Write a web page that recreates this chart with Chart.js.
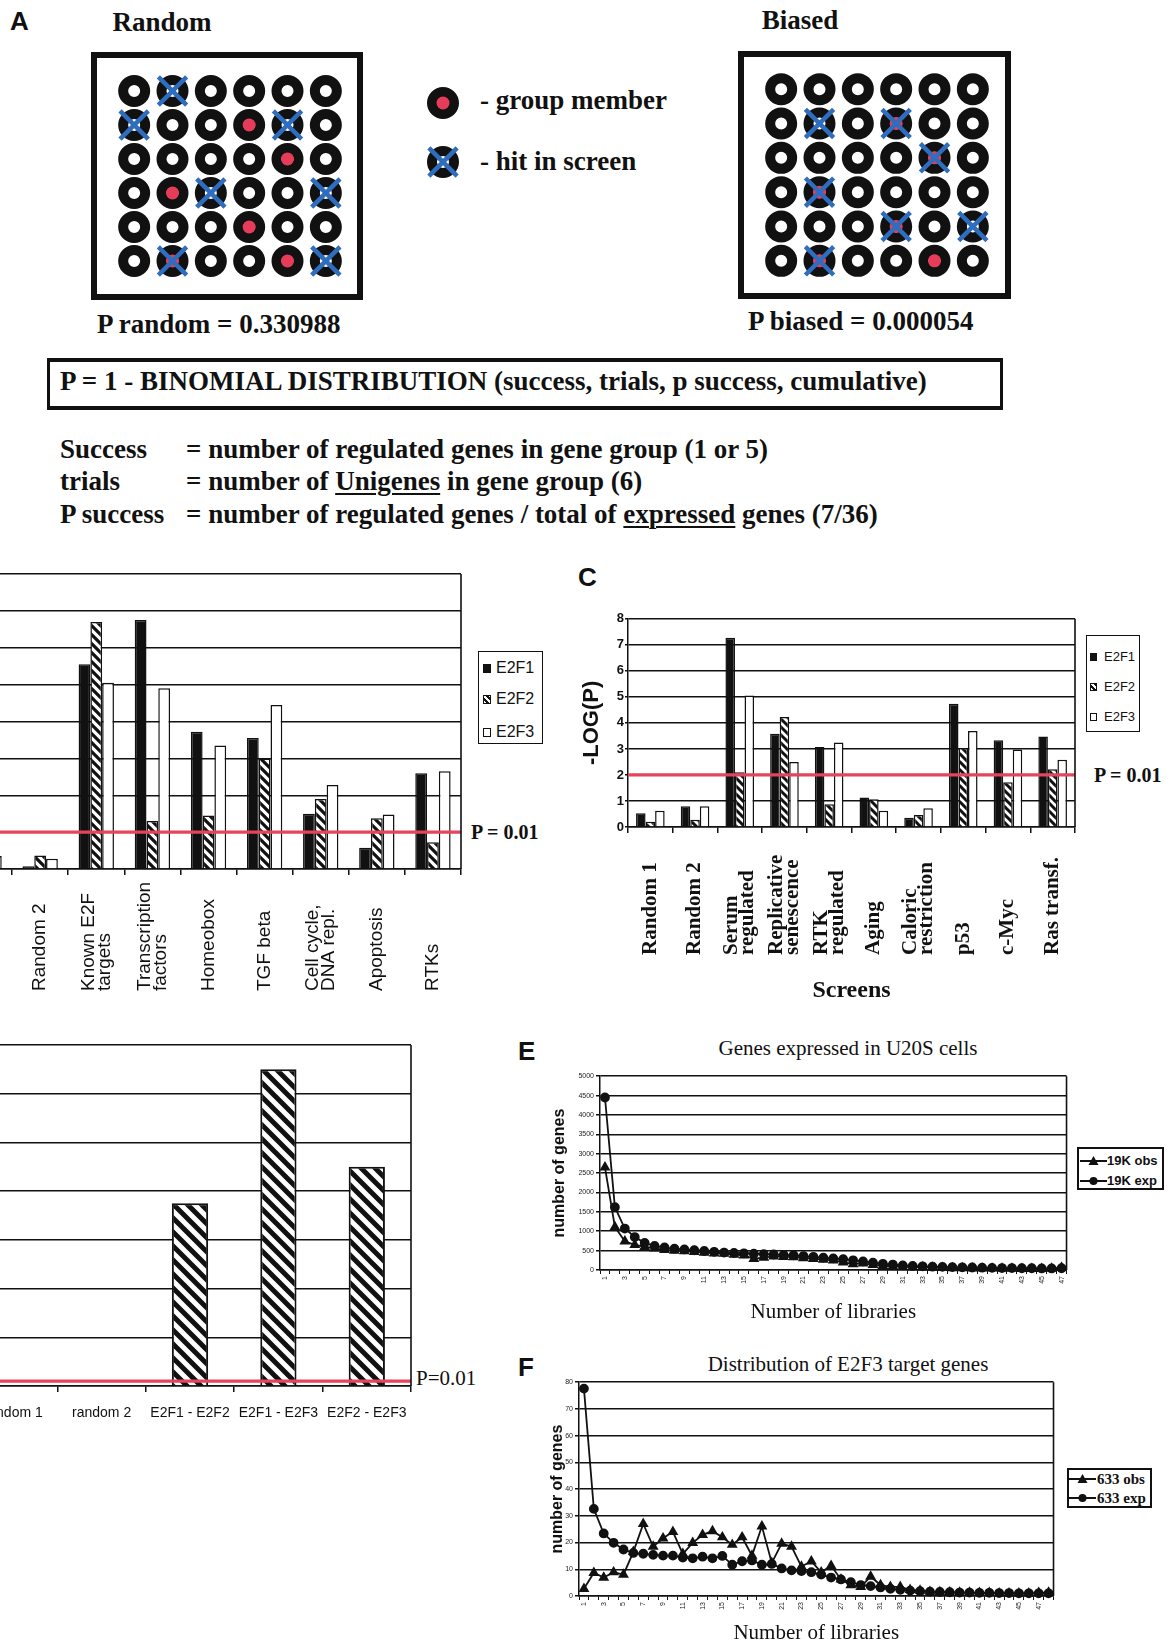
<!DOCTYPE html>
<html>
<head>
<meta charset="utf-8">
<script src="https://cdn.jsdelivr.net/npm/chart.js@4.4.1/dist/chart.umd.min.js"></script>
<style>
html,body{margin:0;padding:0;background:#fff;}
#page{position:relative;width:1176px;height:1645px;overflow:hidden;background:#fff;}
.t{position:absolute;white-space:nowrap;color:#111;line-height:30px;height:30px;}
.sb{font-family:'Liberation Serif','Times New Roman',serif;font-weight:bold;}
.sr{font-family:'Liberation Serif','Times New Roman',serif;}
.ab{font-family:'Liberation Sans',Arial,sans-serif;font-weight:bold;}
.ar{font-family:'Liberation Sans',Arial,sans-serif;}
.box{position:absolute;box-sizing:border-box;border:solid #111;}
canvas{position:absolute;}
u{text-decoration-thickness:2px;text-underline-offset:3px;}
.sq{position:absolute;box-sizing:border-box;border:1.2px solid #111;}
</style>
</head>
<body>
<div id="page">
  <!-- Panel A -->
  <div class="t ab" style="left:10px;top:6px;font-size:26px;">A</div>
  <div class="t sb" style="left:62px;top:7px;width:200px;text-align:center;font-size:27px;">Random</div>
  <div class="t sb" style="left:700px;top:5px;width:200px;text-align:center;font-size:27px;">Biased</div>
  <div class="box" style="left:91px;top:52px;width:272px;height:248px;border-width:6px;"></div>
  <div class="box" style="left:738px;top:51px;width:273px;height:248px;border-width:6px;"></div>
  <canvas id="gridRandom" width="230" height="204" style="left:115px;top:74px;"></canvas>
  <canvas id="gridBiased" width="230" height="206" style="left:762px;top:72px;"></canvas>
  <canvas id="gridLegend" width="40" height="105" style="left:423px;top:80px;"></canvas>
  <div class="t sb" style="left:480px;top:85px;font-size:27px;">- group member</div>
  <div class="t sb" style="left:480px;top:146px;font-size:27px;">- hit in screen</div>
  <div class="t sb" style="left:97px;top:309px;font-size:27px;">P random = 0.330988</div>
  <div class="t sb" style="left:748px;top:306px;font-size:27px;">P biased = 0.000054</div>
  <div class="box" style="left:47px;top:358px;width:956px;height:52px;border-width:4px 3px 4px 3px;"></div>
  <div class="t sb" style="left:60px;top:366px;font-size:27px;">P = 1 - BINOMIAL DISTRIBUTION (success, trials, p success, cumulative)</div>
  <div class="t sb" style="left:60px;top:434px;font-size:27px;">Success</div>
  <div class="t sb" style="left:186px;top:434px;font-size:27px;">= number of regulated genes in gene group (1 or 5)</div>
  <div class="t sb" style="left:60px;top:466px;font-size:27px;">trials</div>
  <div class="t sb" style="left:186px;top:466px;font-size:27px;">= number of <u>Unigenes</u> in gene group (6)</div>
  <div class="t sb" style="left:60px;top:499px;font-size:27px;">P success</div>
  <div class="t sb" style="left:186px;top:499px;font-size:27px;">= number of regulated genes / total of <u>expressed</u> genes (7/36)</div>

  <!-- Panel B -->
  <canvas id="chartB" width="507" height="423" style="left:-44px;top:571px;"></canvas>
  <div class="box" style="left:478px;top:651px;width:65px;height:93px;border-width:1.5px;"></div>
  <div class="sq" style="left:483px;top:664px;width:8px;height:9px;background:#111;"></div>
  <div class="sq" style="left:483px;top:695px;width:8px;height:9px;background:repeating-linear-gradient(45deg,#fff 0 2px,#111 2px 4px);"></div>
  <div class="sq" style="left:483px;top:728px;width:8px;height:9px;background:#fff;"></div>
  <div class="t ar" style="left:496px;top:653px;font-size:16px;">E2F1</div>
  <div class="t ar" style="left:496px;top:684px;font-size:16px;">E2F2</div>
  <div class="t ar" style="left:496px;top:717px;font-size:16px;">E2F3</div>
  <div class="t sb" style="left:471px;top:817px;font-size:20px;">P = 0.01</div>

  <!-- Panel C -->
  <div class="t ab" style="left:578px;top:562px;font-size:26px;">C</div>
  <canvas id="chartC" width="502" height="396" style="left:576px;top:610px;"></canvas>
  <div class="box" style="left:1086px;top:635px;width:54px;height:97px;border-width:1.5px;"></div>
  <div class="sq" style="left:1090px;top:653px;width:7px;height:8px;background:#111;"></div>
  <div class="sq" style="left:1090px;top:683px;width:7px;height:8px;background:repeating-linear-gradient(45deg,#fff 0 2px,#111 2px 4px);"></div>
  <div class="sq" style="left:1090px;top:713px;width:7px;height:8px;background:#fff;"></div>
  <div class="t ar" style="left:1104px;top:642px;font-size:13px;">E2F1</div>
  <div class="t ar" style="left:1104px;top:672px;font-size:13px;">E2F2</div>
  <div class="t ar" style="left:1104px;top:702px;font-size:13px;">E2F3</div>
  <div class="t sb" style="left:1094px;top:760px;font-size:20px;">P = 0.01</div>

  <!-- Panel D -->
  <canvas id="chartD" width="445" height="389" style="left:-31px;top:1042px;"></canvas>
  <div class="t sr" style="left:416px;top:1363px;font-size:21px;">P=0.01</div>

  <!-- Panel E -->
  <div class="t ab" style="left:518px;top:1036px;font-size:26px;">E</div>
  <div class="t sr" style="left:648px;top:1033px;width:400px;text-align:center;font-size:21px;">Genes expressed in U20S cells</div>
  <canvas id="chartE" width="527" height="255" style="left:545px;top:1070px;"></canvas>
  <div class="box" style="left:1077px;top:1147px;width:87px;height:43px;border-width:2px;"></div>
  <svg style="position:absolute;left:1080px;top:1155px;" width="27" height="12"><line x1="0" y1="6" x2="27" y2="6" stroke="#111" stroke-width="2"/><polygon points="13.5,1 18.5,10 8.5,10" fill="#111"/></svg>
  <svg style="position:absolute;left:1080px;top:1175px;" width="27" height="12"><line x1="0" y1="6" x2="27" y2="6" stroke="#111" stroke-width="2"/><circle cx="13.5" cy="6" r="4" fill="#111"/></svg>
  <div class="t ab" style="left:1107px;top:1146px;font-size:13px;">19K obs</div>
  <div class="t ab" style="left:1107px;top:1166px;font-size:13px;">19K exp</div>

  <!-- Panel F -->
  <div class="t ab" style="left:518px;top:1352px;font-size:26px;">F</div>
  <div class="t sr" style="left:648px;top:1349px;width:400px;text-align:center;font-size:21px;">Distribution of E2F3 target genes</div>
  <canvas id="chartF" width="516" height="270" style="left:543px;top:1376px;"></canvas>
  <div class="box" style="left:1067px;top:1468px;width:85px;height:40px;border-width:2px;"></div>
  <svg style="position:absolute;left:1069px;top:1473px;" width="27" height="12"><line x1="0" y1="6" x2="27" y2="6" stroke="#111" stroke-width="2"/><polygon points="13.5,1 18.5,10 8.5,10" fill="#111"/></svg>
  <svg style="position:absolute;left:1069px;top:1492px;" width="27" height="12"><line x1="0" y1="6" x2="27" y2="6" stroke="#111" stroke-width="2"/><circle cx="13.5" cy="6" r="4" fill="#111"/></svg>
  <div class="t sb" style="left:1097px;top:1464px;font-size:15px;">633 obs</div>
  <div class="t sb" style="left:1097px;top:1483px;font-size:15px;">633 exp</div>
</div>

<script>
// ================= DATA =================
// Panel A: 6x6 grid of genes
const gridCols = [1, 2, 3, 4, 5, 6];
const gridRows = [1, 2, 3, 4, 5, 6];
const randomMemberCols = [4, 5, 2, 4, 2, 5];
const randomMemberRows = [2, 3, 4, 5, 6, 6];
const randomHitCols = [2, 1, 5, 3, 6, 2, 6];
const randomHitRows = [1, 2, 2, 4, 4, 6, 6];
const biasedMemberCols = [4, 5, 2, 4, 2, 5];
const biasedMemberRows = [2, 3, 4, 5, 6, 6];
const biasedHitCols = [2, 4, 5, 2, 4, 6, 2];
const biasedHitRows = [2, 2, 3, 4, 5, 5, 6];
const legendMemberRows = [1];
const legendHitRows = [2];

// Significance threshold: -log10(0.01)
const pThresholdLog = 2;

// Panel B: gene groups, -log(P)
const groupsB = [['Random 1'], ['Random 2'], ['Known E2F', 'targets'], ['Transcription', 'factors'], ['Homeobox'], ['TGF beta'], ['Cell cycle,', 'DNA repl.'], ['Apoptosis'], ['RTKs']];
const bE2F1 = [0.5, 0.15, 11.1, 13.5, 7.45, 7.1, 3.0, 1.15, 5.2];
const bE2F2 = [0.3, 0.73, 13.4, 2.6, 2.9, 6.0, 3.8, 2.75, 1.45];
const bE2F3 = [0.7, 0.55, 10.1, 9.8, 6.7, 8.9, 4.55, 2.95, 5.3];
const bAxisMax = 16, bAxisStep = 2;

// Panel C: screens, -log(P)
const screensC = [['Random 1'], ['Random 2'], ['Serum', 'regulated'], ['Replicative', 'senescence'], ['RTK', 'regulated'], ['Aging'], ['Caloric', 'restriction'], ['p53'], ['c-Myc'], ['Ras transf.']];
const cE2F1 = [0.53, 0.8, 7.27, 3.58, 3.07, 1.13, 0.36, 4.74, 3.33, 3.48];
const cE2F2 = [0.2, 0.28, 2.1, 4.23, 0.87, 1.07, 0.46, 3.04, 1.72, 2.22];
const cE2F3 = [0.62, 0.8, 5.05, 2.5, 3.25, 0.62, 0.72, 3.69, 2.98, 2.58];
const cAxisMax = 8, cAxisStep = 1;

// Panel D: target overlap, -log(P)
const pairsD = ['random 1', 'random 2', 'E2F1 - E2F2', 'E2F1 - E2F3', 'E2F2 - E2F3'];
const dOverlap = [0, 0, 75, 130, 90];
const dAxisMax = 140, dAxisStep = 20;

// Panel E: genes expressed in U20S cells
const librariesE = ['1','2','3','4','5','6','7','8','9','10','11','12','13','14','15','16','17','18','19','20','21','22','23','24','25','26','27','28','29','30','31','32','33','34','35','36','37','38','39','40','41','42','43','44','45','46','47'];
const e19kObs = [2650,1110,740,650,600,560,520,500,490,470,450,430,420,400,380,290,320,350,340,330,310,290,270,250,200,150,170,130,110,95,80,75,70,60,55,50,50,45,40,40,35,35,30,30,30,35,60];
const e19kExp = [4450,1620,1070,850,700,620,580,550,530,510,490,470,450,440,430,420,410,400,390,380,360,340,320,300,280,250,220,190,160,140,120,105,95,85,80,75,70,65,60,55,50,50,45,45,40,40,45];
const eAxisMax = 5000, eAxisStep = 500;

// Panel F: distribution of E2F3 target genes
const librariesF = ['1','2','3','4','5','6','7','8','9','10','11','12','13','14','15','16','17','18','19','20','21','22','23','24','25','26','27','28','29','30','31','32','33','34','35','36','37','38','39','40','41','42','43','44','45','46','47','48'];
const f633Obs = [2.7,8.7,6.9,8.9,8.0,16.5,27.0,18.5,21.6,24.0,15.8,19.9,22.9,24.3,22.0,19.2,22.0,15.1,26.1,12.4,19.6,18.5,11.0,13.0,8.9,11.3,6.2,4.1,3.4,7.3,4.1,3.4,3.4,2.3,2.0,1.6,1.5,1.4,1.3,1.3,1.2,1.2,1.0,1.0,1.0,1.0,1.2,1.3];
const f633Exp = [77.6,32.6,23.4,19.9,17.4,16.1,15.8,15.4,15.1,15.1,14.4,14.1,14.7,14.1,15.0,11.7,13.0,13.3,11.7,12.0,10.3,9.6,9.3,8.9,8.0,6.9,6.2,5.2,4.1,3.7,3.2,2.7,2.3,2.0,1.8,1.6,1.5,1.4,1.3,1.3,1.2,1.2,1.1,1.1,1.0,1.0,1.0,1.0];
const fAxisMax = 80, fAxisStep = 10;

// ================= STYLE =================
const INK = '#111';
const RED = '#e6435c';
const BLUE = '#2f6dbf';
const MEMBER = '#e63c5a';

Chart.defaults.font.family = "'Liberation Sans', Arial, sans-serif";
Chart.defaults.color = INK;
Chart.defaults.animation = false;
Chart.defaults.responsive = false;
Chart.defaults.maintainAspectRatio = false;
Chart.defaults.devicePixelRatio = 1;
Chart.defaults.events = [];
Chart.defaults.plugins.legend.display = false;
Chart.defaults.plugins.tooltip.enabled = false;
Chart.defaults.layout.autoPadding = false;

function hatch(period, lw) {
  const c = document.createElement('canvas');
  c.width = period; c.height = period;
  const g = c.getContext('2d');
  g.fillStyle = '#fff'; g.fillRect(0, 0, period, period);
  g.strokeStyle = INK; g.lineWidth = lw;
  g.beginPath();
  for (let k = -1; k <= 1; k++) {
    g.moveTo(-period, -period + k * period);
    g.lineTo(2 * period, 2 * period + k * period);
  }
  g.stroke();
  return g.createPattern(c, 'repeat');
}

// ---- plugins ----
function catLabels(bottom, font, lineHeight) {
  return {
    id: 'catLabels',
    afterDraw(chart) {
      const ctx = chart.ctx, xs = chart.scales.x;
      ctx.save();
      ctx.fillStyle = INK; ctx.font = font;
      ctx.textAlign = 'left'; ctx.textBaseline = 'middle';
      chart.data.labels.forEach((lab, i) => {
        const lines = Array.isArray(lab) ? lab : [lab];
        const x = xs.getPixelForValue(i);
        ctx.save();
        ctx.translate(x, bottom);
        ctx.rotate(-Math.PI / 2);
        lines.forEach((ln, j) => ctx.fillText(ln, 0, (j - (lines.length - 1) / 2) * lineHeight));
        ctx.restore();
      });
      ctx.restore();
    }
  };
}
function refLine(value, startX) {
  return {
    id: 'refLine',
    afterDatasetsDraw(chart) {
      const ctx = chart.ctx, a = chart.chartArea;
      const y = chart.scales.y.getPixelForValue(value);
      ctx.save(); ctx.strokeStyle = RED; ctx.lineWidth = 3.2;
      ctx.beginPath(); ctx.moveTo(startX == null ? a.left : startX, y); ctx.lineTo(a.right, y); ctx.stroke();
      ctx.restore();
    }
  };
}
function frame(sides) {
  return {
    id: 'frame',
    afterDraw(chart) {
      const ctx = chart.ctx, a = chart.chartArea;
      ctx.save(); ctx.strokeStyle = INK; ctx.lineWidth = 1.6; ctx.beginPath();
      if (sides.includes('r')) { ctx.moveTo(a.right, a.top); ctx.lineTo(a.right, a.bottom); }
      if (sides.includes('t')) { ctx.moveTo(a.left, a.top); ctx.lineTo(a.right, a.top); }
      ctx.stroke(); ctx.restore();
    }
  };
}

// ---- Panel A grids ----
function gridChart(id, mCols, mRows, hCols, hRows) {
  const cells = [];
  gridRows.forEach(r => gridCols.forEach(c => cells.push({ x: c, y: r })));
  return new Chart(document.getElementById(id), {
    type: 'scatter',
    data: { datasets: [
      { data: cells, pointStyle: 'circle', pointRadius: 11, borderWidth: 10, borderColor: INK, backgroundColor: '#fff', order: 3, clip: false },
      { data: mCols.map((c, i) => ({ x: c, y: mRows[i] })), pointStyle: 'circle', pointRadius: 6.5, borderWidth: 0, backgroundColor: MEMBER, order: 2, clip: false },
      { data: hCols.map((c, i) => ({ x: c, y: hRows[i] })), pointStyle: 'crossRot', pointRadius: 20, borderWidth: 4.5, borderColor: BLUE, backgroundColor: BLUE, order: 1, clip: false }
    ] },
    options: {
      layout: { padding: 0 },
      scales: {
        x: { display: false, min: 0.5, max: 6.5 },
        y: { display: false, min: 0.5, max: 6.5, reverse: true }
      }
    }
  });
}
gridChart('gridRandom', randomMemberCols, randomMemberRows, randomHitCols, randomHitRows);
gridChart('gridBiased', biasedMemberCols, biasedMemberRows, biasedHitCols, biasedHitRows);

new Chart(document.getElementById('gridLegend'), {
  type: 'scatter',
  data: { datasets: [
    { data: legendMemberRows.concat(legendHitRows).map(r => ({ x: 1, y: r })), pointStyle: 'circle', pointRadius: 11, borderWidth: 10, borderColor: INK, backgroundColor: '#fff', order: 3, clip: false },
    { data: legendMemberRows.map(r => ({ x: 1, y: r })), pointStyle: 'circle', pointRadius: 6.5, borderWidth: 0, backgroundColor: MEMBER, order: 2, clip: false },
    { data: legendHitRows.map(r => ({ x: 1, y: r })), pointStyle: 'crossRot', pointRadius: 20, borderWidth: 4.5, borderColor: BLUE, order: 1, clip: false }
  ] },
  options: {
    layout: { padding: 0 },
    scales: {
      x: { display: false, min: 0, max: 2 },
      y: { display: false, min: 0.61, max: 2.39, reverse: true }
    }
  }
});

// ---- bar chart helpers ----
function hiddenY(max, step) {
  return {
    display: true, min: 0, max: max,
    ticks: { display: false, stepSize: step },
    grid: { color: INK, lineWidth: 1.5, drawTicks: false },
    border: { display: false },
    afterFit(s) { s.width = 0; }
  };
}

// Panel B
new Chart(document.getElementById('chartB'), {
  type: 'bar',
  data: {
    labels: groupsB,
    datasets: [
      { label: 'E2F1', data: bE2F1, backgroundColor: INK, borderColor: INK, borderWidth: 1.5 },
      { label: 'E2F2', data: bE2F2, backgroundColor: hatch(9, 3.2), borderColor: INK, borderWidth: 1.5 },
      { label: 'E2F3', data: bE2F3, backgroundColor: '#fff', borderColor: INK, borderWidth: 1.5 }
    ]
  },
  options: {
    layout: { padding: { top: 3, right: 2, left: 0, bottom: 0 } },
    datasets: { bar: { categoryPercentage: 0.63, barPercentage: 1.0 } },
    scales: {
      x: {
        ticks: { display: false },
        grid: { drawOnChartArea: false, drawTicks: true, tickLength: 6, color: INK, lineWidth: 1.5 },
        border: { display: true, color: INK, width: 1.5 },
        afterFit(s) { s.height = 125; }
      },
      y: hiddenY(bAxisMax, bAxisStep)
    }
  },
  plugins: [catLabels(420, "19px 'Liberation Sans', Arial, sans-serif", 16), refLine(pThresholdLog), frame('r')]
});

// Panel C
new Chart(document.getElementById('chartC'), {
  type: 'bar',
  data: {
    labels: screensC,
    datasets: [
      { label: 'E2F1', data: cE2F1, backgroundColor: INK, borderColor: INK, borderWidth: 1.5 },
      { label: 'E2F2', data: cE2F2, backgroundColor: hatch(8, 3), borderColor: INK, borderWidth: 1.5 },
      { label: 'E2F3', data: cE2F3, backgroundColor: '#fff', borderColor: INK, borderWidth: 1.5 }
    ]
  },
  options: {
    layout: { padding: { top: 3, right: 3, left: 0, bottom: 0 } },
    datasets: { bar: { categoryPercentage: 0.64, barPercentage: 1.0 } },
    scales: {
      x: {
        ticks: { display: false },
        grid: { drawOnChartArea: false, drawTicks: true, tickLength: 6, color: INK, lineWidth: 1.5 },
        border: { display: true, color: INK, width: 1.5 },
        title: { display: true, text: 'Screens', color: INK, font: { family: "'Liberation Serif', serif", size: 24, weight: 'bold' }, padding: { top: 0, bottom: 1 } },
        afterFit(s) { s.height = 179; }
      },
      y: {
        min: 0, max: cAxisMax,
        ticks: { stepSize: cAxisStep, font: { size: 13, weight: 'bold' }, color: INK, padding: 1 },
        grid: { color: INK, lineWidth: 1.5, drawTicks: true, tickLength: 3 },
        border: { display: true, color: INK, width: 1.5 },
        title: { display: true, text: '-LOG(P)', color: INK, font: { size: 22, weight: 'bold' }, padding: { top: 3, bottom: 0 } },
        afterFit(s) { s.width = 52; }
      }
    }
  },
  plugins: [catLabels(345, "bold 21px 'Liberation Serif', serif", 16), refLine(pThresholdLog), frame('r')]
});

// Panel D
new Chart(document.getElementById('chartD'), {
  type: 'bar',
  data: {
    labels: pairsD,
    datasets: [
      { label: 'overlap', data: dOverlap, backgroundColor: hatch(14, 5), borderColor: INK, borderWidth: 2 }
    ]
  },
  options: {
    layout: { padding: { top: 3, right: 3, left: 0, bottom: 0 } },
    datasets: { bar: { categoryPercentage: 0.41, barPercentage: 1.0 } },
    scales: {
      x: {
        ticks: { autoSkip: false, maxRotation: 0, minRotation: 0, font: { size: 14, lineHeight: 2.34 }, color: INK, padding: 5 },
        grid: { drawOnChartArea: false, drawTicks: true, tickLength: 6, color: INK, lineWidth: 1.5 },
        border: { display: true, color: INK, width: 1.5 },
        afterFit(s) { s.height = 45; }
      },
      y: hiddenY(dAxisMax, dAxisStep)
    }
  },
  plugins: [refLine(pThresholdLog, 31), frame('r')]
});

// ---- line chart builder (E, F) ----
function libChart(id, labels, obs, exp, obsName, expName, max, step, yWidth, xHeight, yTitlePad) {
  return new Chart(document.getElementById(id), {
    type: 'line',
    data: {
      labels: labels,
      datasets: [
        { label: obsName, data: obs, borderColor: INK, backgroundColor: INK, borderWidth: 1.8, pointStyle: 'triangle', pointRadius: 4.5, tension: 0, clip: false },
        { label: expName, data: exp, borderColor: INK, backgroundColor: INK, borderWidth: 1.8, pointStyle: 'circle', pointRadius: 4, tension: 0, clip: false }
      ]
    },
    options: {
      layout: { padding: { top: 3, right: 3, left: 0, bottom: 0 } },
      scales: {
        x: {
          offset: true,
          grid: { offset: true, drawOnChartArea: false, drawTicks: true, tickLength: 4, color: INK, lineWidth: 1 },
          border: { display: true, color: INK, width: 1.5 },
          ticks: { autoSkip: false, maxRotation: 90, minRotation: 90, font: { size: 7 }, color: '#222', padding: 2,
                   callback: (v, i) => (i % 2 === 0 ? labels[i] : '') },
          title: { display: true, text: 'Number of libraries', color: INK, font: { family: "'Liberation Serif', serif", size: 21 }, padding: { top: 0, bottom: 0 } },
          afterFit(s) { s.height = xHeight; }
        },
        y: {
          min: 0, max: max,
          ticks: { stepSize: step, font: { size: 7 }, color: '#222', padding: 2, callback: (v) => String(v) },
          grid: { color: INK, lineWidth: 1.5, drawTicks: true, tickLength: 4 },
          border: { display: true, color: INK, width: 1.5 },
          title: { display: true, text: 'number of genes', color: INK, font: { size: 16, weight: 'bold' }, padding: { top: yTitlePad, bottom: 0 } },
          afterFit(s) { s.width = yWidth; }
        }
      }
    },
    plugins: [frame('r')]
  });
}
libChart('chartE', librariesE, e19kObs, e19kExp, '19K obs', '19K exp', eAxisMax, eAxisStep, 55, 55, 5);
libChart('chartF', librariesF, f633Obs, f633Exp, '633 obs', '633 exp', fAxisMax, fAxisStep, 36, 50, 5);
</script>
</body>
</html>
